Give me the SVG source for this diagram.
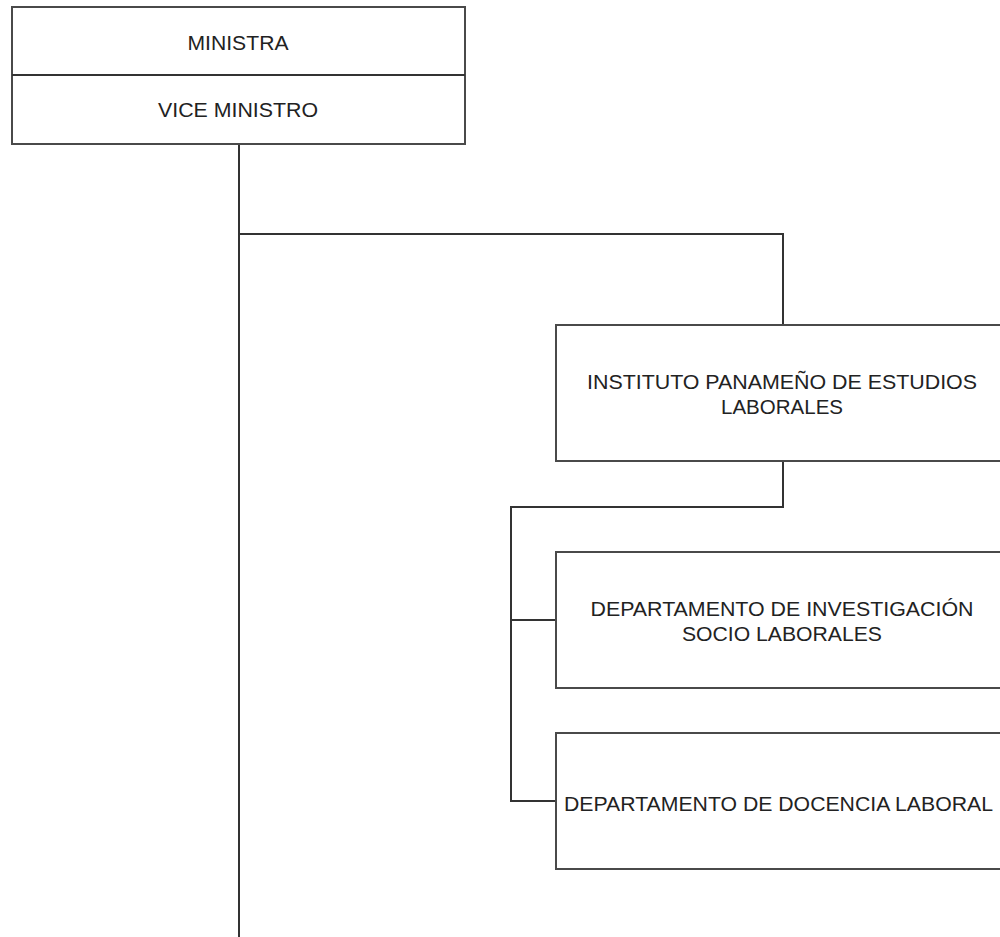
<svg xmlns="http://www.w3.org/2000/svg" width="1000" height="937" viewBox="0 0 1000 937">
<style>
.box{fill:#ffffff;stroke:#4a4a4a;stroke-width:2}
.ln{fill:none;stroke:#333333;stroke-width:2}
.t{font-family:"Liberation Sans",Arial,sans-serif;font-size:20px;fill:#222222}
.c{text-anchor:middle}
</style>
<rect x="0" y="0" width="1000" height="937" fill="#ffffff"/>
<g id="connectors">
<polyline class="ln" points="239,144 239,937"/>
<polyline class="ln" points="239,234 783,234 783,325"/>
<polyline class="ln" points="783,461 783,507 511,507 511,801 557,801"/>
<polyline class="ln" points="511,620 557,620"/>
</g>
<g id="ministra">
<rect class="box" x="12" y="7" width="453" height="137"/>
<line class="ln" x1="12" y1="75" x2="465" y2="75"/>
<text class="t c" x="238" y="50" textLength="101" lengthAdjust="spacingAndGlyphs">MINISTRA</text>
<text class="t c" x="238" y="117" textLength="160" lengthAdjust="spacingAndGlyphs">VICE MINISTRO</text>
</g>
<g id="instituto">
<rect class="box" x="556" y="325" width="460" height="136"/>
<text class="t c" x="782" y="389" textLength="390" lengthAdjust="spacingAndGlyphs">INSTITUTO PANAMEÑO DE ESTUDIOS</text>
<text class="t c" x="782" y="414" textLength="122" lengthAdjust="spacingAndGlyphs">LABORALES</text>
</g>
<g id="dep-investigacion">
<rect class="box" x="556" y="552" width="460" height="136"/>
<text class="t c" x="782" y="616" textLength="383" lengthAdjust="spacingAndGlyphs">DEPARTAMENTO DE INVESTIGACIÓN</text>
<text class="t c" x="782" y="641" textLength="200" lengthAdjust="spacingAndGlyphs">SOCIO LABORALES</text>
</g>
<g id="dep-docencia">
<rect class="box" x="556" y="733" width="460" height="136"/>
<text class="t" x="564" y="811" textLength="429" lengthAdjust="spacingAndGlyphs">DEPARTAMENTO DE DOCENCIA LABORAL</text>
</g>
</svg>
